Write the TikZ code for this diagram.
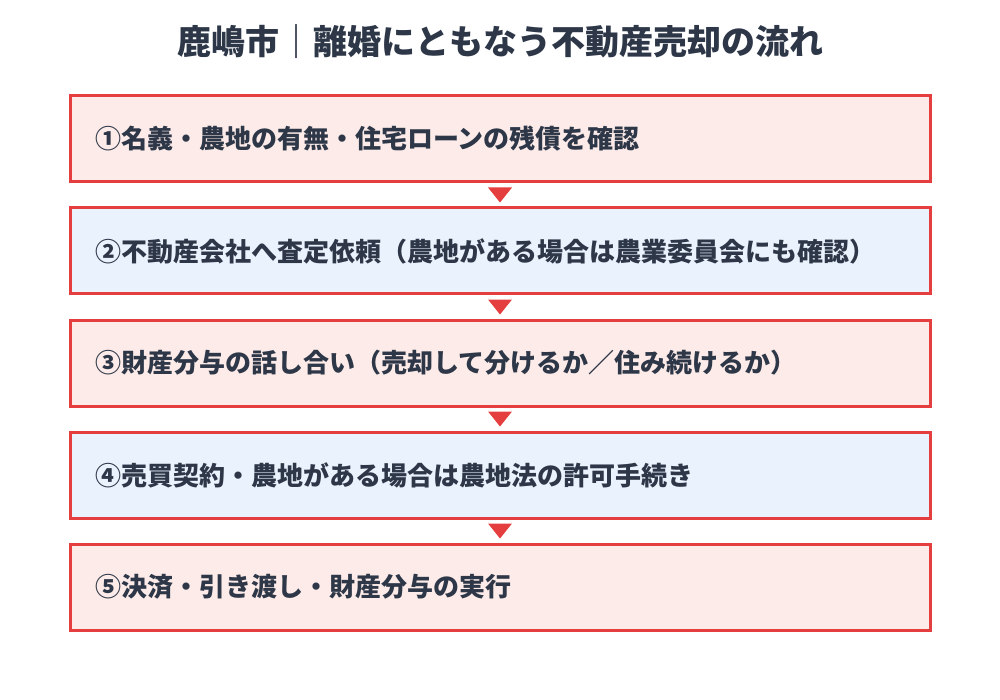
\documentclass[tikz,border=0pt]{standalone}
\usepackage{fontspec}
\newfontfamily\jpfont{Noto Sans CJK JP}
\usepackage{tikz}
\usetikzlibrary{calc}
\definecolor{text_dark}{RGB}{45,55,72}
\definecolor{edge_red}{RGB}{229,62,62}
\definecolor{node_pink}{RGB}{252,235,232}
\definecolor{node_blue}{RGB}{234,242,253}

\begin{document}
\begin{tikzpicture}[x=1pt,y=-1pt]
    \tikzstyle{stepbox}=[draw=edge_red, line width=3pt, rectangle, minimum width=860pt, minimum height=86pt, text width=810pt, inner xsep=25pt, inner ysep=0pt, align=left, text=text_dark, font=\jpfont\bfseries\fontsize{26}{30}\selectfont]
    \tikzstyle{pk}=[style=stepbox,fill=node_pink]
    \tikzstyle{bl}=[style=stepbox,fill=node_blue]

    \useasboundingbox (0,0) rectangle (1000,700);

    \node[text=text_dark, font=\jpfont\bfseries\fontsize{34}{38}\selectfont] (title) at (500,42) {鹿嶋市｜離婚にともなう不動産売却の流れ};

    \node[pk] (s1) at (500,139) {①名義・農地の有無・住宅ローンの残債を確認};
    \node[bl] (s2) at (500,251) {②不動産会社へ査定依頼（農地がある場合は農業委員会にも確認）};
    \node[pk] (s3) at (500,363) {③財産分与の話し合い（売却して分けるか／住み続けるか）};
    \node[bl] (s4) at (500,475) {④売買契約・農地がある場合は農地法の許可手続き};
    \node[pk] (s5) at (500,587) {⑤決済・引き渡し・財産分与の実行};

    % arrow marks between steps
    \foreach \a in {s1,s2,s3,s4}
        \fill[edge_red] ($(\a.south)+(-12,4)$) -- ++(24,0) -- ++(-12,15) -- cycle;
\end{tikzpicture}
\end{document}
